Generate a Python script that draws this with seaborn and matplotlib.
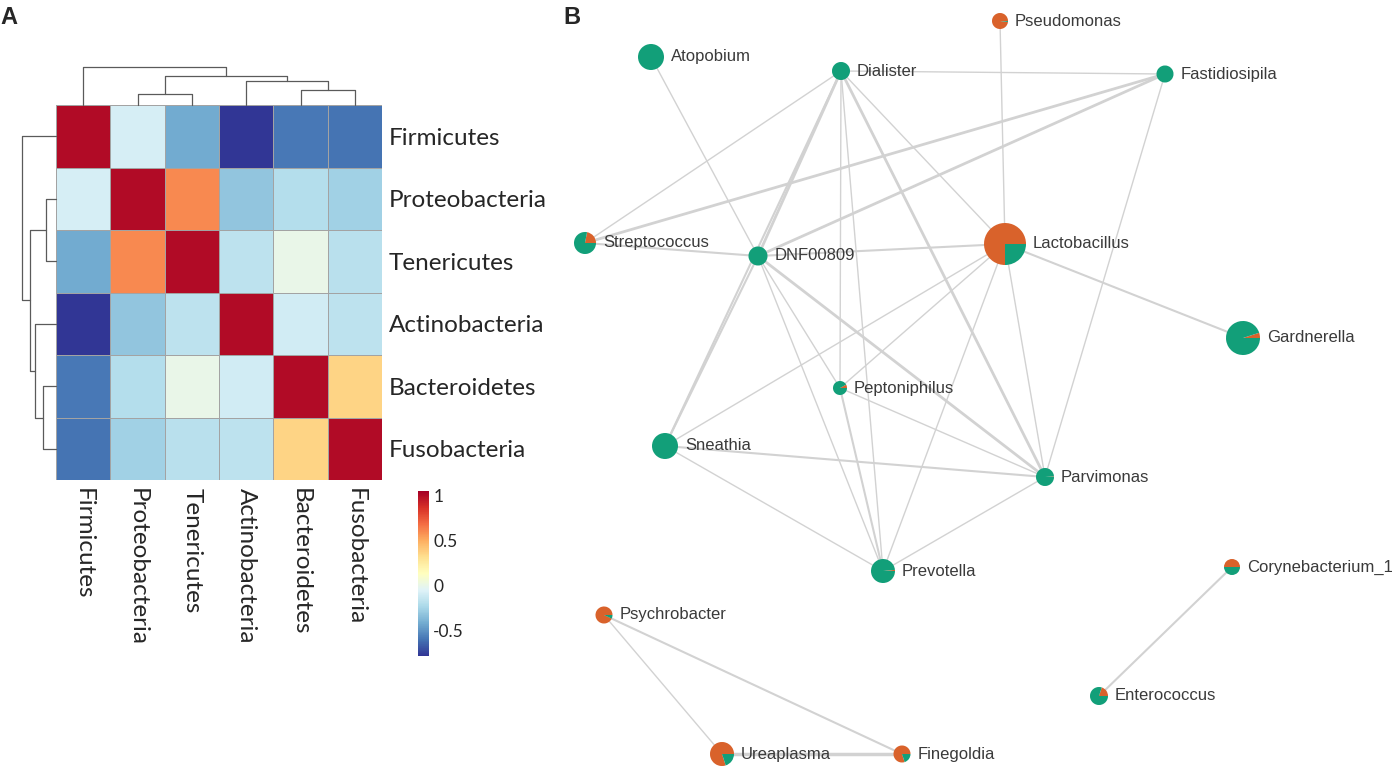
import numpy as np
import pandas as pd
import seaborn as sns
import matplotlib.pyplot as plt
from matplotlib.patches import Wedge

# ---- panel A data: phylum correlation matrix ----
phyla = ['Firmicutes', 'Proteobacteria', 'Tenericutes',
         'Actinobacteria', 'Bacteroidetes', 'Fusobacteria']
r_firmicutes = [1.00, -0.08, -0.42, -0.80, -0.58, -0.60]
r_proteobacteria = [-0.08, 1.00, 0.60, -0.31, -0.20, -0.26]
r_tenericutes = [-0.42, 0.60, 1.00, -0.17, 0.00, -0.18]
r_actinobacteria = [-0.80, -0.31, -0.17, 1.00, -0.10, -0.17]
r_bacteroidetes = [-0.58, -0.20, 0.00, -0.10, 1.00, 0.36]
r_fusobacteria = [-0.60, -0.26, -0.18, -0.17, 0.36, 1.00]

# hierarchical clustering merges: (left, right, height)
merges = [(1, 2, 0.29), (4, 5, 0.39), (3, 7, 0.62), (6, 8, 0.76), (0, 9, 1.00)]

# ---- panel B data: co-occurrence network ----
genus = ['Atopobium', 'Dialister', 'Pseudomonas', 'Fastidiosipila', 'Streptococcus',
         'DNF00809', 'Lactobacillus', 'Gardnerella', 'Peptoniphilus', 'Sneathia',
         'Parvimonas', 'Prevotella', 'Corynebacterium_1', 'Psychrobacter',
         'Ureaplasma', 'Finegoldia', 'Enterococcus']
node_x = [651, 841, 1000, 1165, 585, 758, 1005, 1243, 840, 665, 1045, 883, 1232, 604, 722, 902, 1099]
node_y = [57, 71, 21, 74, 243, 256, 244, 338, 388, 446, 477, 571, 567, 615, 754, 754, 696]
node_size = [13, 9, 8, 8.5, 11, 9.5, 21, 17, 7, 13, 9, 12, 8, 8.5, 12, 8.5, 9]
frac_orange = [0, 0, 0.98, 0, 0.22, 0, 0.75, 0.05, 0.08, 0, 0.01, 0.015, 0.5, 0.93, 0.8, 0.8, 0.2]

edges = [('Atopobium', 'DNF00809', 1), ('Dialister', 'Streptococcus', 1),
         ('Dialister', 'Fastidiosipila', 1), ('Dialister', 'DNF00809', 2),
         ('Dialister', 'Sneathia', 1.5), ('Dialister', 'Peptoniphilus', 1),
         ('Dialister', 'Prevotella', 1), ('Dialister', 'Parvimonas', 2),
         ('Dialister', 'Lactobacillus', 1), ('Fastidiosipila', 'Streptococcus', 2),
         ('Fastidiosipila', 'DNF00809', 2), ('Fastidiosipila', 'Parvimonas', 1),
         ('Pseudomonas', 'Lactobacillus', 1), ('Streptococcus', 'DNF00809', 1.5),
         ('DNF00809', 'Lactobacillus', 1.5), ('DNF00809', 'Peptoniphilus', 1),
         ('DNF00809', 'Prevotella', 1), ('DNF00809', 'Parvimonas', 2),
         ('DNF00809', 'Sneathia', 1.5), ('Lactobacillus', 'Gardnerella', 1.5),
         ('Lactobacillus', 'Sneathia', 1), ('Lactobacillus', 'Peptoniphilus', 1),
         ('Lactobacillus', 'Prevotella', 1), ('Lactobacillus', 'Parvimonas', 1),
         ('Peptoniphilus', 'Parvimonas', 1), ('Peptoniphilus', 'Prevotella', 1.5),
         ('Sneathia', 'Parvimonas', 1.5), ('Sneathia', 'Prevotella', 1),
         ('Prevotella', 'Parvimonas', 1), ('Psychrobacter', 'Ureaplasma', 1),
         ('Psychrobacter', 'Finegoldia', 1.5), ('Ureaplasma', 'Finegoldia', 2.5),
         ('Enterococcus', 'Corynebacterium_1', 1.5)]

W, H = 1396, 769
ORANGE = '#d9622b'
GREEN = '#129f79'

corr = pd.DataFrame([r_firmicutes, r_proteobacteria, r_tenericutes,
                     r_actinobacteria, r_bacteroidetes, r_fusobacteria],
                    index=phyla, columns=phyla)

sns.set_style('white')
fig = plt.figure(figsize=(W / 100, H / 100), dpi=100)


def px(left, top, width, height):
    return [left / W, 1 - (top + height) / H, width / W, height / H]


def dendro_segments(merges, n):
    pos = {i: i + 0.5 for i in range(n)}
    hgt = {i: 0.0 for i in range(n)}
    segs = []
    for k, (a, b, h) in enumerate(merges):
        segs.append(([pos[a], pos[a], pos[b], pos[b]], [hgt[a], h, h, hgt[b]]))
        pos[n + k] = (pos[a] + pos[b]) / 2
        hgt[n + k] = h
    return segs


# ---- panel A ----
ax_hm = fig.add_axes(px(56, 105, 326, 375))
cax = fig.add_axes(px(418, 491, 11, 165))
sns.heatmap(corr, ax=ax_hm, cbar_ax=cax, cmap='RdYlBu_r', vmin=-0.78, vmax=1.05,
            linewidths=0.6, linecolor='#a3a3a3', square=False)
ax_hm.yaxis.tick_right()
ax_hm.set_yticklabels(phyla, rotation=0, fontsize=17.5, family='Lato')
ax_hm.set_xticklabels(phyla, rotation=270, fontsize=17.5, family='Lato', va='top')
ax_hm.tick_params(axis='both', length=0)
ax_hm.tick_params(axis='y', pad=5)
ax_hm.tick_params(axis='x', pad=6)
ax_hm.set_xlabel('')
ax_hm.set_ylabel('')

cbar = ax_hm.collections[0].colorbar
cbar.set_ticks([1, 0.5, 0, -0.5])
cbar.set_ticklabels(['1', '0.5', '0', '-0.5'])
cbar.outline.set_visible(False)
cax.tick_params(length=0, labelsize=12.5, pad=3)
for t in cax.get_yticklabels():
    t.set_family('Lato')

segs = dendro_segments(merges, len(phyla))
ax_cd = fig.add_axes(px(56, 67, 326, 38))
ax_rd = fig.add_axes(px(22, 105, 34, 375))
for xs, ys in segs:
    ax_cd.plot(xs, ys, color='#5a5a5a', lw=0.9, clip_on=False)
    ax_rd.plot(ys, xs, color='#5a5a5a', lw=0.9, clip_on=False)
ax_cd.set_xlim(0, len(phyla))
ax_cd.set_ylim(0, 1.0)
ax_rd.set_ylim(len(phyla), 0)
ax_rd.set_xlim(1.0, 0)
for a in (ax_cd, ax_rd):
    a.axis('off')

fig.text(0 / W, 1 - 24 / H, 'A', fontsize=17, fontweight='bold',
         family='Liberation Sans', va='baseline', ha='left')

# ---- panel B ----
ax_net = fig.add_axes(px(560, 0, W - 560, H))
ax_net.set_xlim(560, W)
ax_net.set_ylim(H, 0)
ax_net.axis('off')

idx = {g: i for i, g in enumerate(genus)}
for a, b, w in edges:
    i, j = idx[a], idx[b]
    ax_net.plot([node_x[i], node_x[j]], [node_y[i], node_y[j]],
                color='#d2d2d2', lw=w, zorder=1, solid_capstyle='round')

for g, x, y, r, f in zip(genus, node_x, node_y, node_size, frac_orange):
    # y axis is inverted, so negative angles run counter-clockwise on screen
    if f > 0:
        ax_net.add_patch(Wedge((x, y), r, -360 * f, 0, color=ORANGE, lw=0, zorder=3))
    if f < 1:
        ax_net.add_patch(Wedge((x, y), r, -360, -360 * f, color=GREEN, lw=0, zorder=3))
    ax_net.text(x + r + 7, y, g, fontsize=12, family='Liberation Sans',
                color='#3a3a3a', va='center', ha='left', zorder=4)

fig.text(563 / W, 1 - 24 / H, 'B', fontsize=17, fontweight='bold',
         family='Liberation Sans', va='baseline', ha='left')

fig.savefig('out.png', dpi=100)
